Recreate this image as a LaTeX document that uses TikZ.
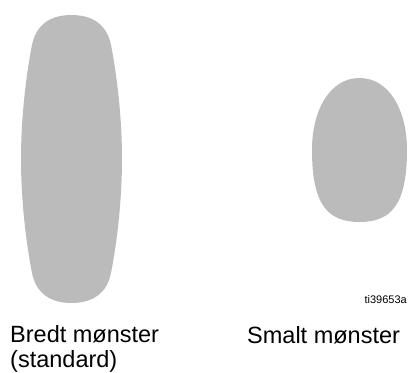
\documentclass[tikz,border=0pt]{standalone}
\usepackage{fontspec}
\setmainfont{Liberation Sans}
\definecolor{pat}{RGB}{187,187,187}
\begin{document}
\begin{tikzpicture}[x=1pt,y=-1pt,
  lbl/.style={inner sep=0pt,anchor=base west,font=\fontsize{23.5}{25}\selectfont},
  tag/.style={inner sep=0pt,anchor=base east,font=\fontsize{11}{12}\selectfont},
  spray/.style={fill=pat,draw=none}]
\useasboundingbox (0,0) rectangle (408,373);
% wide pattern
\path[spray] (71.5,15) .. controls (50,15) and (36,25) .. (32,45)
  .. controls (28,65) and (21,110) .. (21,159)
  .. controls (21,208) and (28,253) .. (32,273)
  .. controls (36,293) and (50,303) .. (71.5,303)
  .. controls (93,303) and (107,293) .. (111,273)
  .. controls (115,253) and (122,208) .. (122,159)
  .. controls (122,110) and (115,65) .. (111,45)
  .. controls (107,25) and (93,15) .. (71.5,15) -- cycle;
% narrow pattern
\path[spray] (359.5,78) .. controls (330,78) and (312,110) .. (312,150)
  .. controls (312,205) and (328,222) .. (359.5,222)
  .. controls (391,222) and (407,205) .. (407,150)
  .. controls (407,110) and (389,78) .. (359.5,78) -- cycle;
\node[tag] (id) at (407,303) {ti39653a};
\node[lbl] (w1) at (10,342) {Bredt mønster};
\node[lbl] (w2) at (10,367) {(standard)};
\node[lbl] (n1) at (247,343) {Smalt mønster};
\end{tikzpicture}
\end{document}
